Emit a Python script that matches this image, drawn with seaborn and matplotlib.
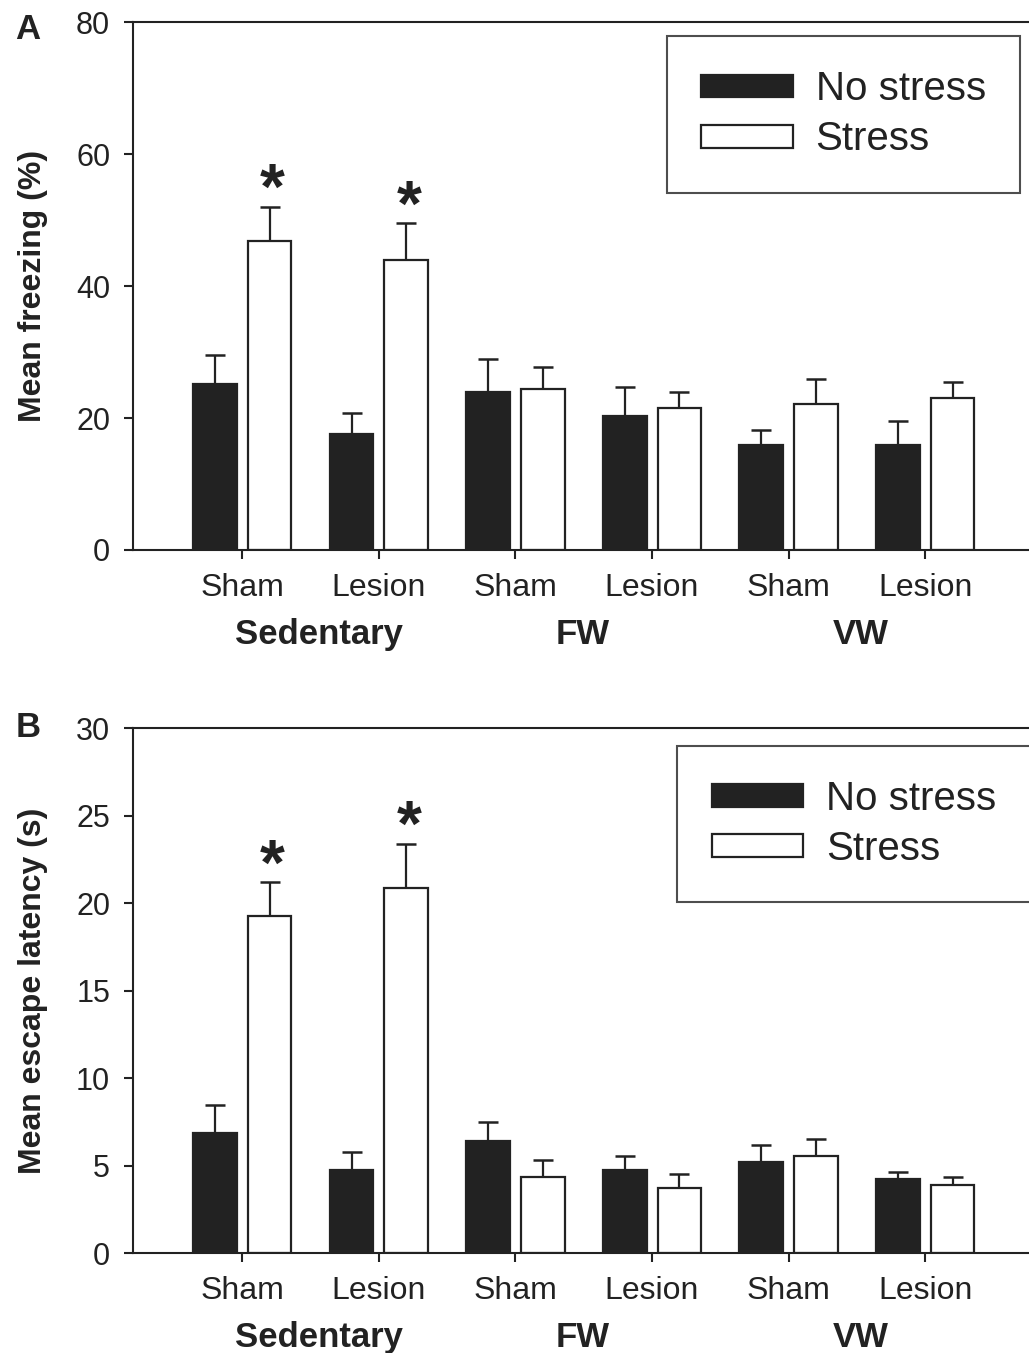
import pandas as pd
import matplotlib.pyplot as plt
import matplotlib.transforms as mtransforms
import seaborn as sns

# -------------------------------
# DATA
# -------------------------------
groups = ["Sedentary", "FW", "VW"]
surgery = ["Sham", "Lesion"]
conditions = ["No stress", "Stress"]

# panel A: mean freezing (%)
freeze_ns = [25.2, 17.6, 23.9, 20.3, 15.9, 15.9]
freeze_ns_sem = [4.3, 3.2, 5.0, 4.4, 2.3, 3.6]
freeze_s = [46.8, 43.9, 24.4, 21.5, 22.1, 23.0]
freeze_s_sem = [5.2, 5.6, 3.3, 2.4, 3.8, 2.5]

# panel B: mean escape latency (s)
escape_ns = [6.86, 4.74, 6.40, 4.74, 5.22, 4.21]
escape_ns_sem = [1.60, 1.03, 1.09, 0.82, 0.95, 0.42]
escape_s = [19.26, 20.86, 4.34, 3.70, 5.56, 3.89]
escape_s_sem = [1.94, 2.54, 0.97, 0.81, 0.95, 0.43]

# asterisks over the stress bars
stress_sig = [True, True, False, False, False, False]

cats = [f"{g} {s}" for g in groups for s in surgery]
tick_labels = [s for g in groups for s in surgery]

DARK = "#222222"


def make_frame(ns, s):
    rows = []
    for cat, a, b in zip(cats, ns, s):
        rows.append({"cat": cat, "stress": conditions[0], "value": a})
        rows.append({"cat": cat, "stress": conditions[1], "value": b})
    return pd.DataFrame(rows)


def draw_panel(ax, ns, ns_sem, s, s_sem, ylim, yticks, ylabel, legend_anchor):
    df = make_frame(ns, s)
    sns.barplot(data=df, x="cat", y="value", hue="stress", order=cats,
                hue_order=conditions,
                palette={conditions[0]: DARK, conditions[1]: "white"},
                edgecolor=DARK, linewidth=1.6, width=0.8, gap=0.2,
                errorbar=None, ax=ax)

    # upper-only error bars (drop the cap that sits on the bar top)
    for cont, sems in zip(ax.containers, [ns_sem, s_sem]):
        for bar, sem in zip(cont, sems):
            x = bar.get_x() + bar.get_width() / 2
            h = bar.get_height()
            _, caps, _ = ax.errorbar(x, h, yerr=[[0], [sem]], fmt="none",
                                     ecolor=DARK, elinewidth=1.6, capsize=7.5,
                                     capthick=1.8, zorder=1)
            for cap in caps:
                if abs(cap.get_ydata()[0] - h) < 1e-9:
                    cap.set_visible(False)

    # asterisks
    stress_bars = ax.containers[1]
    for bar, sem, sig in zip(stress_bars, s_sem, stress_sig):
        if sig:
            x = bar.get_x() + bar.get_width() / 2
            ax.annotate("*", xy=(x, bar.get_height() + sem), xytext=(2, -11),
                        textcoords="offset points", ha="center", va="bottom",
                        fontsize=46, fontweight="bold", color=DARK)

    ax.set_xlim(-0.8, 5.76)
    ax.set_ylim(*ylim)
    ax.set_yticks(yticks)
    ax.set_xticks(range(len(cats)))
    ax.set_xticklabels(tick_labels)
    ax.set_xlabel("")
    ax.set_ylabel(ylabel, fontsize=23, fontweight="bold", color=DARK)
    ax.yaxis.set_label_coords(-0.095, 0.5)

    ax.spines["right"].set_visible(False)
    for side in ["left", "bottom", "top"]:
        ax.spines[side].set_linewidth(1.5)
        ax.spines[side].set_color(DARK)
    ax.tick_params(axis="both", direction="out", length=6.5, width=1.5,
                   color=DARK, labelcolor=DARK)
    ax.tick_params(axis="y", pad=10, labelsize=22)
    ax.tick_params(axis="x", pad=10, labelsize=23)

    # group labels under the tick labels
    group_x = [0.56, 2.49, 4.53]
    trans = mtransforms.blended_transform_factory(ax.transData, ax.transAxes)
    for gx, g in zip(group_x, groups):
        ax.text(gx, -0.16, g, transform=trans, ha="center",
                va="center", fontsize=25, fontweight="bold", color=DARK)

    handles, labels = ax.get_legend_handles_labels()
    leg = ax.legend(handles, labels, loc="upper right",
                    bbox_to_anchor=legend_anchor, borderaxespad=0,
                    fontsize=29, frameon=True, fancybox=False,
                    handlelength=2.28, handleheight=0.5, handletextpad=0.57,
                    borderpad=0.85, labelspacing=0.3)
    leg.get_frame().set_edgecolor(DARK)
    leg.get_frame().set_linewidth(1.5)
    for t in leg.get_texts():
        t.set_color(DARK)


# -------------------------------
# FIGURE
# -------------------------------
sns.set_style("ticks")
plt.rcParams["font.family"] = ["Liberation Sans", "DejaVu Sans"]

fig = plt.figure(figsize=(10.29, 13.53), dpi=100)
ax_a = fig.add_axes([0.1293, 0.5935, 0.8707, 0.3902])
ax_b = fig.add_axes([0.1293, 0.0739, 0.8707, 0.388])

draw_panel(ax_a, freeze_ns, freeze_ns_sem, freeze_s, freeze_s_sem,
           (0, 80), [0, 20, 40, 60, 80], "Mean freezing (%)", (0.99, 0.9735))
draw_panel(ax_b, escape_ns, escape_ns_sem, escape_s, escape_s_sem,
           (0, 30), [0, 5, 10, 15, 20, 25, 30], "Mean escape latency (s)",
           (1.002, 0.966))

fig.text(0.027, 0.978, "A", fontsize=25, fontweight="bold", ha="center",
         va="center", color=DARK)
fig.text(0.027, 0.462, "B", fontsize=25, fontweight="bold", ha="center",
         va="center", color=DARK)

fig.savefig("out.png", dpi=100)
